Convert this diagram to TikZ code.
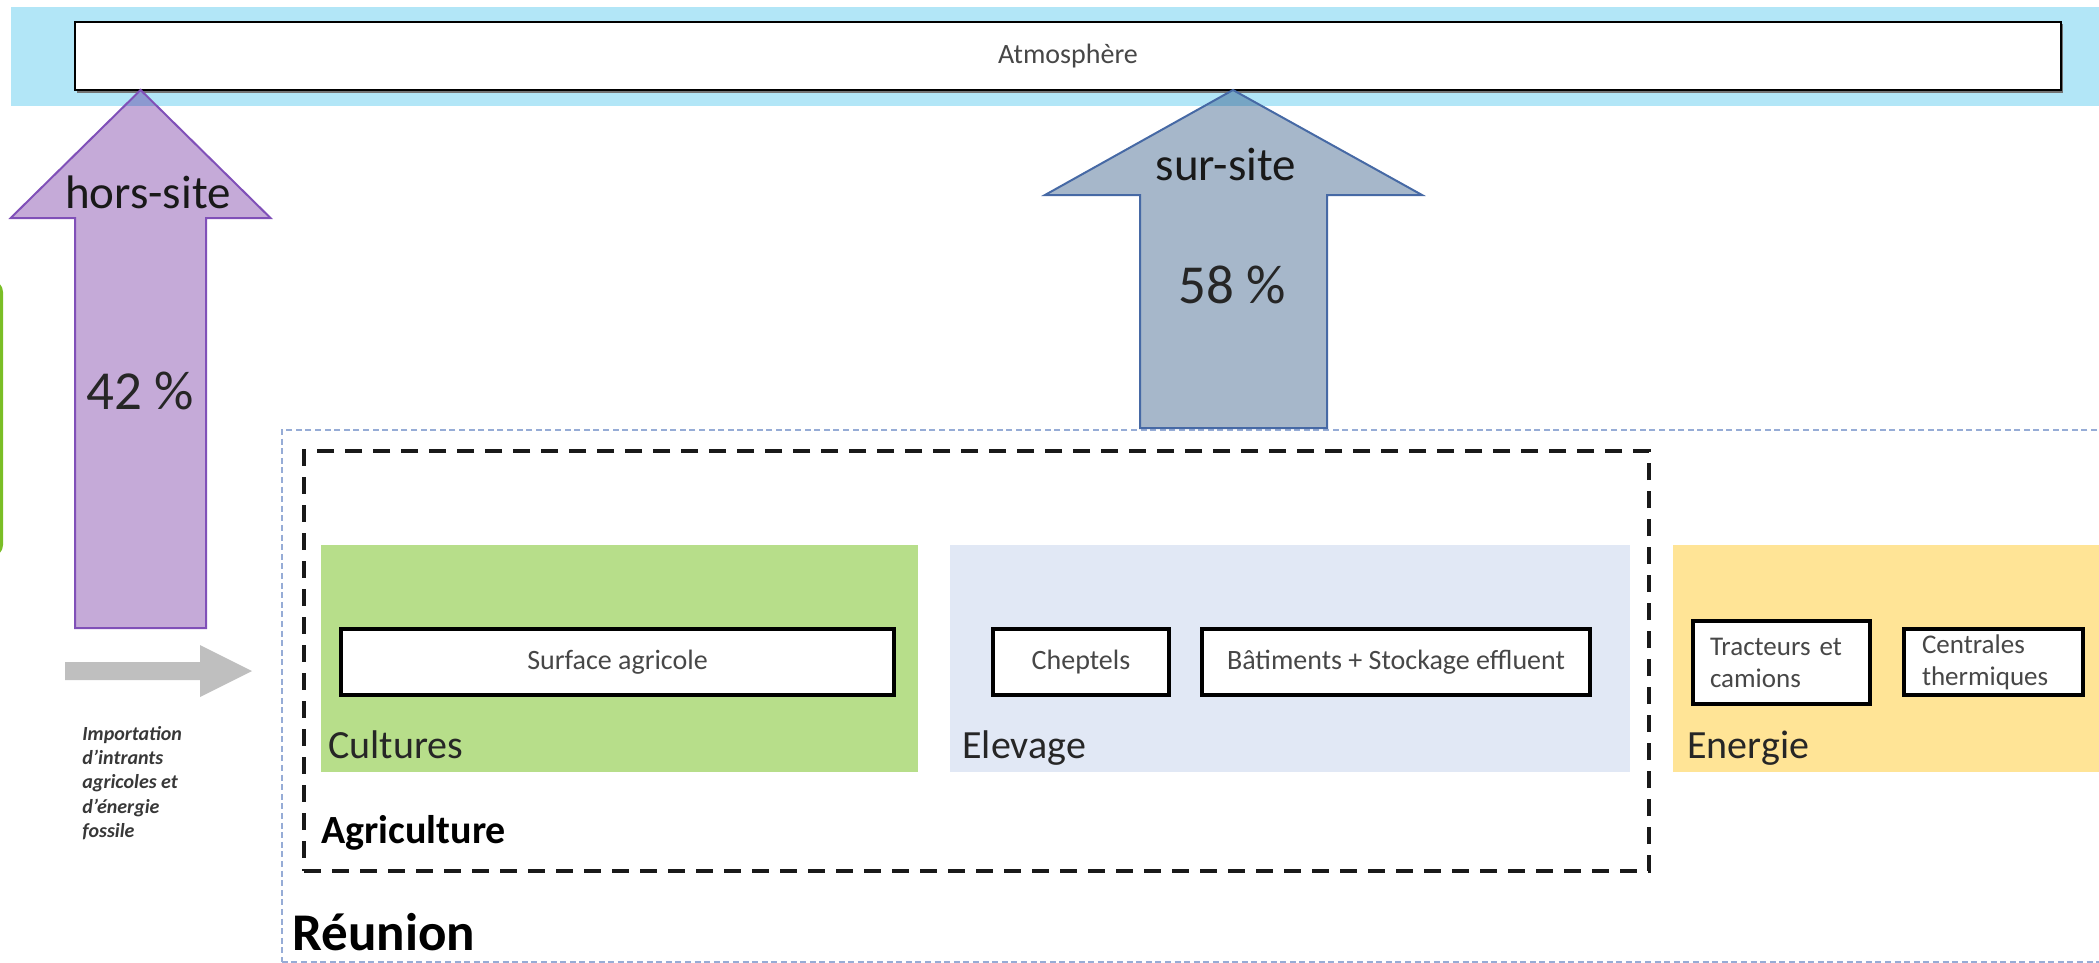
\documentclass[tikz,border=0pt]{standalone}
\usepackage{fontspec}
\setmainfont{Carlito}

\definecolor{bandblue}{RGB}{178,230,247}
\definecolor{cultgreen}{RGB}{183,222,138}
\definecolor{elevblue}{RGB}{225,232,245}
\definecolor{energyellow}{RGB}{255,228,150}
\definecolor{hsfill}{RGB}{197,170,216}
\definecolor{hsline}{RGB}{128,80,184}
\definecolor{hsover}{RGB}{140,153,208}
\definecolor{ssfill}{RGB}{166,183,202}
\definecolor{ssline}{RGB}{70,105,165}
\definecolor{ssover}{RGB}{118,165,196}
\definecolor{importgray}{RGB}{191,191,191}
\definecolor{reuniondot}{RGB}{150,172,214}
\definecolor{sidegreen}{RGB}{122,190,38}

\tikzset{
  itembox/.style={draw=black, line width=1.6pt, fill=white, inner sep=0pt,
    text=black!72, font=\fontsize{14}{16}\selectfont},
  sectorbox/.style={inner sep=0pt, draw=none},
  sectorlabel/.style={inner sep=0pt, anchor=base west, text=black!85,
    font=\fontsize{20}{24}\selectfont},
  flowlabel/.style={inner sep=0pt, anchor=base, text=black!90,
    font=\fontsize{23.5}{28}\selectfont},
  sharelabel/.style={inner sep=0pt, anchor=base, text=black!85,
    font=\fontsize{27.5}{32}\selectfont},
  agribox/.style={draw=black!90, line width=2pt, dash pattern=on 8.5pt off 5.5pt},
  reunionbox/.style={draw=reuniondot, line width=0.8pt, dash pattern=on 3pt off 1.8pt},
}

\begin{document}
\begin{tikzpicture}[x=0.5pt,y=-0.5pt]
\useasboundingbox (0,0) rectangle (2099,963);
\clip (0,0) rectangle (2099,963);

% atmosphere band and box
\fill[bandblue] (11,7) rectangle (2120,106);
\fill[black!55] (77,24) rectangle (2063,93);
\node[draw=black, line width=0.9pt, fill=white, minimum width=993pt,
  minimum height=34pt, inner sep=0pt, text=black!72,
  font=\fontsize{14}{16}\selectfont] (atm) at (1068,56) {Atmosphère};

% Réunion frame (dotted)
\node[reunionbox, inner sep=0pt, anchor=north west, minimum width=1000pt,
  minimum height=266pt] (reunion) at (281,429) {};

% Agriculture frame (dashed)
\node[agribox, inner sep=0pt, minimum width=672.5pt, minimum height=210pt]
  (agri) at (976.5,661) {};

% sectors
\node[sectorbox, fill=cultgreen, minimum width=298.5pt, minimum height=113.5pt]
  (cult) at (619.5,658.5) {};
\node[sectorbox, fill=elevblue, minimum width=340pt, minimum height=113.5pt]
  (elev) at (1289.5,658.5) {};
\node[sectorbox, fill=energyellow, anchor=north west, minimum width=250pt,
  minimum height=113.5pt] (ener) at (1673,545) {};

% items
\node[itembox, minimum width=276.5pt, minimum height=33pt] (surf) at (617.5,662) {Surface agricole};
\node[itembox, minimum width=88pt, minimum height=33pt] (chep) at (1081,662) {Cheptels};
\node[itembox, minimum width=194pt, minimum height=33pt] (bati) at (1396,662) {Bâtiments + Stockage effluent};
\node[itembox, font=\fontsize{13.5}{16}\selectfont, align=left, text width=71.5pt,
  inner xsep=8.5pt, minimum height=41.5pt] (trac) at (1781.5,662.5) {Tracteurs et\\camions};
\node[itembox, font=\fontsize{13.5}{16}\selectfont, align=left, text width=71.5pt,
  inner xsep=9pt, minimum height=33pt] (cent) at (1993.5,662) {Centrales\\thermiques};

% sector and area labels
\node[sectorlabel] (cultlbl) at (328,758) {Cultures};
\node[sectorlabel] (elevlbl) at (962,758) {Elevage};
\node[sectorlabel] (enerlbl) at (1687,758) {Energie};
\node[sectorlabel, text=black, font=\fontsize{20}{24}\selectfont\bfseries] (agrilbl) at (321,843) {Agriculture};
\node[sectorlabel, text=black, font=\fontsize{26.5}{30}\selectfont\bfseries] (reulbl) at (292,950) {Réunion};

% off-site emissions arrow
\coordinate (h1) at (75,628);   \coordinate (h2) at (75,218);
\coordinate (h3) at (10.7,218); \coordinate (h4) at (140.6,90);
\coordinate (h5) at (270.5,218);\coordinate (h6) at (206,218);
\coordinate (h7) at (206,628);
\fill[hsfill] (h1) -- (h2) -- (h3) -- (h4) -- (h5) -- (h6) -- (h7) -- cycle;
\fill[hsover] (h4) -- (124.4,106) -- (156.8,106) -- cycle;
\draw[hsline, line width=1pt, line join=miter] (h1) -- (h2) -- (h3) -- (h4) -- (h5) -- (h6) -- (h7) -- cycle;

% on-site emissions arrow
\coordinate (s1) at (1140,428); \coordinate (s2) at (1140,195);
\coordinate (s3) at (1045,195); \coordinate (s4) at (1233,90);
\coordinate (s5) at (1422,195); \coordinate (s6) at (1327,195);
\coordinate (s7) at (1327,428);
\fill[ssfill] (s1) -- (s2) -- (s3) -- (s4) -- (s5) -- (s6) -- (s7) -- cycle;
\fill[ssover] (s4) -- (1204.4,106) -- (1261.6,106) -- cycle;
\draw[ssline, line width=1pt, line join=miter] (s1) -- (s2) -- (s3) -- (s4) -- (s5) -- (s6) -- (s7) -- cycle;

\node[flowlabel] (hslbl) at (148,208) {hors-site};
\node[sharelabel] (hspct) at (140,409) {42 \%};
\node[flowlabel] (sslbl) at (1226,180) {sur-site};
\node[sharelabel] (sspct) at (1232,303) {58 \%};

% green frame edge on the left
\draw[sidegreen, line width=1.5pt, rounded corners=5pt] (-60,282) rectangle (1.5,555);

% import arrow and caption
\fill[importgray] (65,662) -- (200,662) -- (200,645) -- (252,671) -- (200,697) -- (200,680) -- (65,680) -- cycle;
\node[inner sep=0pt, anchor=west, align=left, text=black!78,
  font=\fontsize{10}{12.15}\selectfont\bfseries\itshape] (imp) at (82,783)
  {Importation\\d’intrants\\agricoles et\\d’énergie\\fossile};
\end{tikzpicture}
\end{document}
